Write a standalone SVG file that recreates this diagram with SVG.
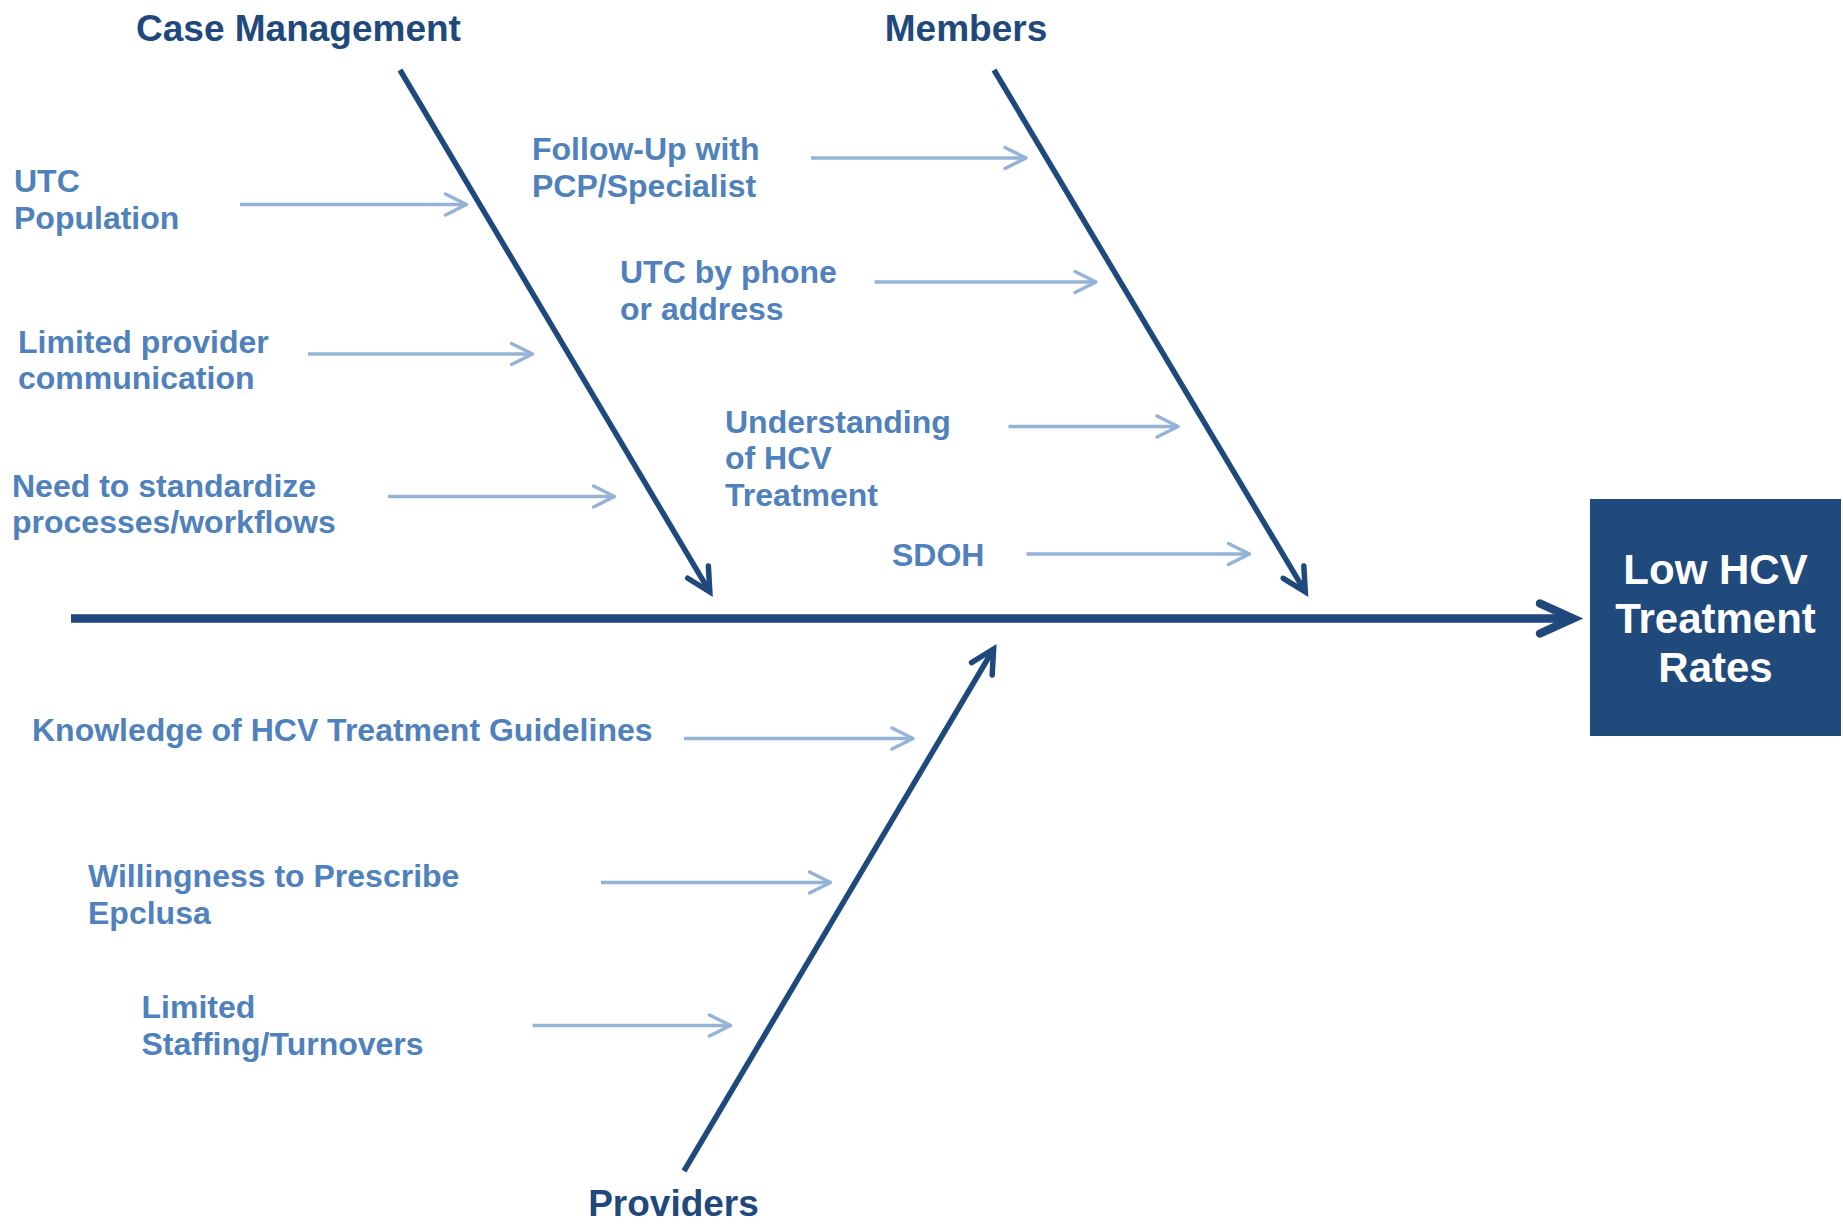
<svg xmlns="http://www.w3.org/2000/svg" width="1843" height="1225" viewBox="0 0 1843 1225">
  <style>
    .cat { font-family: "Liberation Sans", Arial, sans-serif; font-weight: bold; font-size: 37px; fill: #1F497D; text-anchor: middle; }
    .cause { font-family: "Liberation Sans", Arial, sans-serif; font-weight: bold; font-size: 32px; fill: #4F81BD; }
    .effect-text { font-family: "Liberation Sans", Arial, sans-serif; font-weight: bold; font-size: 42px; fill: #FFFFFF; text-anchor: middle; }
    .bone { stroke: #1F497D; stroke-width: 5.5; fill: none; marker-end: url(#boneHead); }
    .spine { stroke: #1F497D; stroke-width: 8.5; fill: none; marker-end: url(#spineHead); }
    .feed { stroke: #95B3D7; stroke-width: 3.5; fill: none; marker-end: url(#feedHead); }
  </style>
  <defs>
    <marker id="feedHead" markerUnits="userSpaceOnUse" viewBox="-30 -15 34 30" markerWidth="34" markerHeight="30" refX="0" refY="0" orient="auto" overflow="visible">
      <path d="M-21,-10.5 L0,0 L-21,10.5" fill="none" stroke="#95B3D7" stroke-width="3.5" stroke-linecap="round" stroke-linejoin="round"/>
    </marker>
    <!-- bone and spine heads: mitred point, round arm ends; the line stops at the vertex -->
    <marker id="boneHead" markerUnits="userSpaceOnUse" viewBox="-30 -15 34 30" markerWidth="34" markerHeight="30" refX="0" refY="0" orient="auto" overflow="visible">
      <path d="M-23,-12 L0,0 L-23,12" fill="none" stroke="#1F497D" stroke-width="5.5" stroke-linecap="round" stroke-linejoin="miter"/>
    </marker>
    <marker id="spineHead" markerUnits="userSpaceOnUse" viewBox="-40 -20 44 40" markerWidth="44" markerHeight="40" refX="0" refY="0" orient="auto" overflow="visible">
      <path d="M-33,-15 L0,0 L-33,15" fill="none" stroke="#1F497D" stroke-width="8.5" stroke-linecap="round" stroke-linejoin="miter"/>
    </marker>
  </defs>

  <rect width="1843" height="1225" fill="#FFFFFF"/>

  <!-- connectors: spine, category bones, cause feeds -->
  <g id="connectors">
    <line class="spine" x1="71" y1="618.5" x2="1573" y2="618.5"/>
    <line class="bone" x1="400" y1="70" x2="709.8" y2="591.9"/>
    <line class="bone" x1="994" y1="70" x2="1305.3" y2="591.9"/>
    <line class="bone" x1="684" y1="1171" x2="993.6" y2="649"/>

    <line class="feed" x1="240" y1="204.5" x2="466.5" y2="204.5"/>
    <line class="feed" x1="308" y1="354" x2="532.5" y2="354"/>
    <line class="feed" x1="388" y1="496.5" x2="614.5" y2="496.5"/>
    <line class="feed" x1="811" y1="158" x2="1026" y2="158"/>
    <line class="feed" x1="874.5" y1="282" x2="1096" y2="282"/>
    <line class="feed" x1="1008.5" y1="426.5" x2="1178" y2="426.5"/>
    <line class="feed" x1="1026.5" y1="554" x2="1249.5" y2="554"/>
    <line class="feed" x1="684" y1="738.5" x2="913" y2="738.5"/>
    <line class="feed" x1="601" y1="882.5" x2="830.5" y2="882.5"/>
    <line class="feed" x1="532.5" y1="1025.5" x2="730.5" y2="1025.5"/>
  </g>

  <!-- category headings -->
  <g id="cat-case-management"><text class="cat" x="298.5" y="41">Case Management</text></g>
  <g id="cat-members"><text class="cat" x="966" y="41">Members</text></g>
  <g id="cat-providers"><text class="cat" x="673.5" y="1216">Providers</text></g>

  <!-- causes: Case Management -->
  <g id="cause-utc-population">
    <text class="cause" x="14" y="192">UTC</text>
    <text class="cause" x="14" y="228.5">Population</text>
  </g>
  <g id="cause-limited-provider-communication">
    <text class="cause" x="18" y="352.7">Limited provider</text>
    <text class="cause" x="18" y="388.5">communication</text>
  </g>
  <g id="cause-standardize">
    <text class="cause" x="12" y="496.7">Need to standardize</text>
    <text class="cause" x="12" y="533">processes/workflows</text>
  </g>

  <!-- causes: Members -->
  <g id="cause-follow-up">
    <text class="cause" x="532" y="160">Follow-Up with</text>
    <text class="cause" x="532" y="196.7">PCP/Specialist</text>
  </g>
  <g id="cause-utc-phone">
    <text class="cause" x="620" y="283">UTC by phone</text>
    <text class="cause" x="620" y="320">or address</text>
  </g>
  <g id="cause-understanding">
    <text class="cause" x="725" y="433">Understanding</text>
    <text class="cause" x="725" y="469">of HCV</text>
    <text class="cause" x="725" y="505.5">Treatment</text>
  </g>
  <g id="cause-sdoh">
    <text class="cause" x="892" y="565.7">SDOH</text>
  </g>

  <!-- causes: Providers -->
  <g id="cause-knowledge">
    <text class="cause" x="32" y="741">Knowledge of HCV Treatment Guidelines</text>
  </g>
  <g id="cause-willingness">
    <text class="cause" x="88" y="887">Willingness to Prescribe</text>
    <text class="cause" x="88" y="924">Epclusa</text>
  </g>
  <g id="cause-staffing">
    <text class="cause" x="141.5" y="1018">Limited</text>
    <text class="cause" x="141.5" y="1055">Staffing/Turnovers</text>
  </g>

  <!-- effect -->
  <g id="effect">
    <rect x="1590" y="499" width="251" height="237" fill="#214A7C"/>
    <text class="effect-text" x="1715.5" y="584">Low HCV</text>
    <text class="effect-text" x="1715.5" y="633">Treatment</text>
    <text class="effect-text" x="1715.5" y="682">Rates</text>
  </g>
</svg>
